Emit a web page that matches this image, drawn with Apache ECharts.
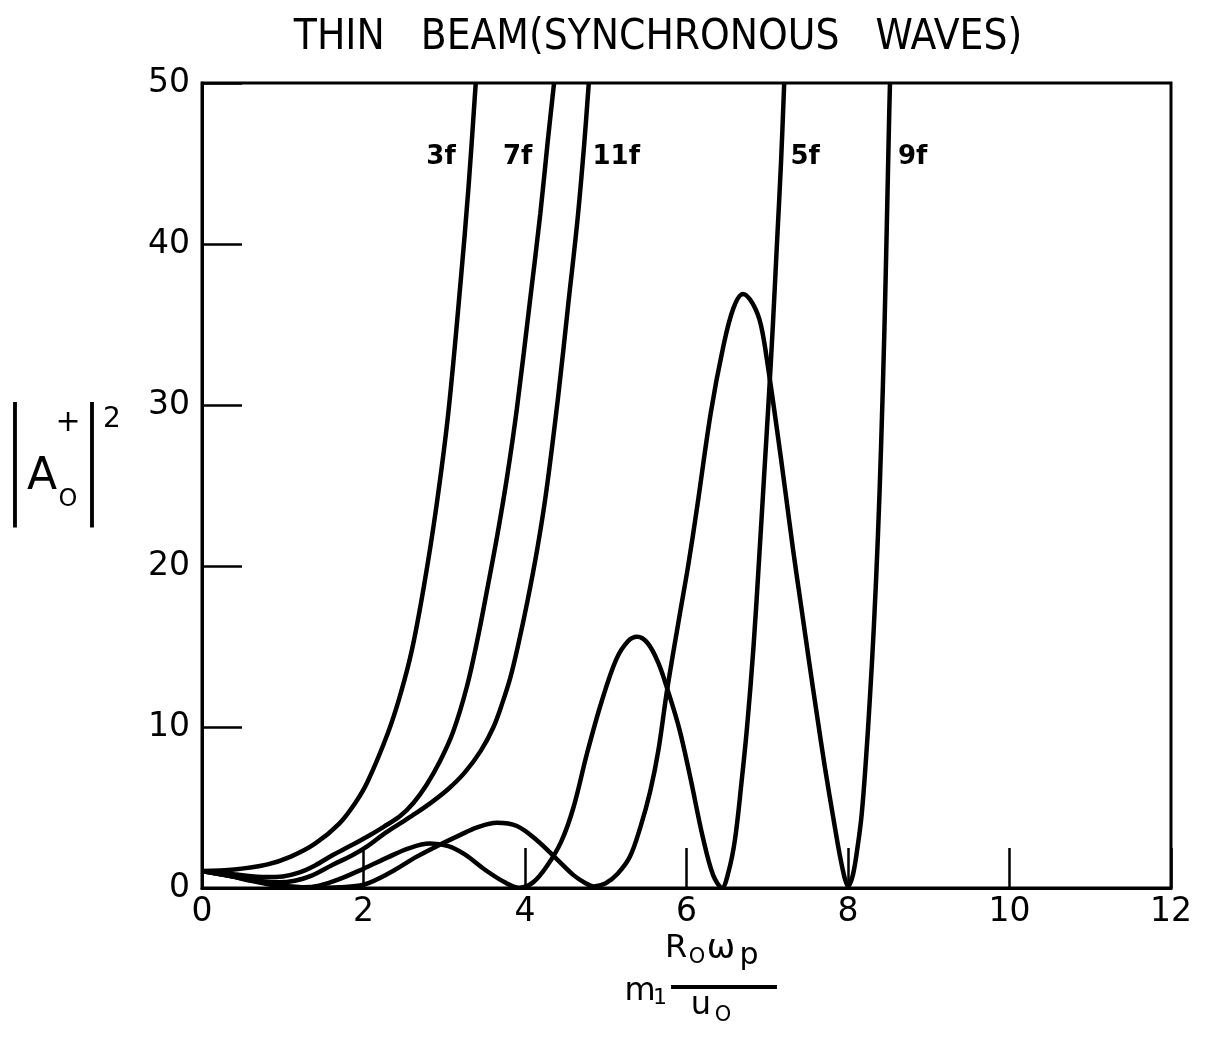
<!DOCTYPE html>
<html><head><meta charset="utf-8">
<script src="https://cdn.jsdelivr.net/npm/echarts@6/dist/echarts.min.js"></script>
<style>html,body{margin:0;padding:0;background:#fff}#c{width:1205px;height:1038px}</style>
</head><body><div id="c"></div>
<script>
// ---- data ----
const xMin = 0, xMax = 12, xStep = 2;
const yMin = 0, yMax = 50, yStep = 10;

const x3f = [0, 0.4, 0.8, 1.1, 1.4, 1.7, 1.9, 2.05, 2.3, 2.45, 2.6, 2.75, 2.9, 3.05, 3.2, 3.3, 3.39];
const y3f = [1.05, 1.15, 1.45, 1.95, 2.75, 4.0, 5.3, 6.6, 9.6, 11.9, 14.8, 18.8, 23.6, 29.5, 37.5, 43.5, 50];

const x7f = [0, 0.4, 0.8, 1.0, 1.2, 1.4, 1.62, 1.85, 2.05, 2.25, 2.45, 2.62, 2.78, 2.95, 3.11, 3.28, 3.41, 3.53, 3.66, 3.78, 3.9, 4.06, 4.19, 4.28, 4.36];
const y7f = [1.05, 0.85, 0.68, 0.72, 0.95, 1.4, 2.05, 2.65, 3.2, 3.8, 4.45, 5.3, 6.4, 7.9, 9.7, 12.5, 15.4, 18.5, 22.0, 25.6, 29.8, 36.4, 41.9, 46.3, 50];

const x11f = [0, 0.4, 0.75, 0.95, 1.15, 1.35, 1.62, 1.85, 2.05, 2.25, 2.45, 2.65, 2.85, 3.05, 3.25, 3.45, 3.61, 3.72, 3.82, 3.92, 4.03, 4.15, 4.26, 4.41, 4.53, 4.65, 4.73, 4.79];
const y11f = [1.05, 0.7, 0.42, 0.35, 0.45, 0.75, 1.45, 2.0, 2.6, 3.35, 4.0, 4.65, 5.35, 6.15, 7.15, 8.5, 10.0, 11.5, 13.1, 15.2, 17.8, 21.0, 24.5, 30.5, 36.0, 41.5, 46.0, 50];

const x5f = [0, 0.3, 0.6, 0.85, 1.05, 1.25, 1.45, 1.7, 2.0, 2.3, 2.55, 2.82, 3.05, 3.25, 3.5, 3.75, 3.93, 4.1, 4.27, 4.45, 4.6, 4.77, 4.95, 5.13, 5.27, 5.39, 5.52, 5.65, 5.76, 5.91, 6.05, 6.2, 6.33, 6.44, 6.52, 6.6, 6.68, 6.75, 6.83, 6.9, 6.96, 7.02, 7.07, 7.12, 7.17, 7.21];
const y5f = [1.05, 0.8, 0.45, 0.2, 0.08, 0.05, 0.15, 0.55, 1.2, 1.9, 2.45, 2.76, 2.6, 2.1, 1.15, 0.35, 0.02, 0.35, 1.35, 2.9, 5.0, 8.4, 11.6, 14.2, 15.3, 15.6, 15.2, 14.0, 12.4, 9.9, 6.8, 3.2, 0.8, 0.02, 1.0, 3.0, 6.5, 10.0, 15.0, 20.5, 25.5, 30.5, 35.0, 40.0, 45.0, 50];

const x9f = [0, 0.4, 0.8, 1.1, 1.4, 1.7, 2.0, 2.33, 2.66, 2.95, 3.2, 3.4, 3.65, 3.9, 4.15, 4.4, 4.6, 4.75, 4.85, 5.0, 5.15, 5.3, 5.43, 5.55, 5.65, 5.76, 5.91, 6.02, 6.13, 6.3, 6.45, 6.58, 6.7, 6.82, 6.92, 7.02, 7.12, 7.22, 7.32, 7.42, 7.52, 7.62, 7.72, 7.82, 7.9, 7.96, 8.0, 8.06, 8.12, 8.17, 8.22, 8.27, 8.32, 8.37, 8.41, 8.45, 8.48, 8.51, 8.52];
const y9f = [1.05, 0.7, 0.3, 0.1, 0.02, 0.05, 0.2, 0.96, 1.95, 2.7, 3.3, 3.75, 4.05, 3.85, 2.95, 1.76, 0.8, 0.3, 0.1, 0.3, 0.9, 1.95, 3.8, 6.0, 8.5, 12.3, 16.8, 20.0, 23.6, 29.5, 33.5, 36.0, 36.9, 36.3, 35.0, 32.0, 28.5, 24.8, 21.0, 17.5, 14.0, 10.6, 7.3, 4.3, 2.0, 0.6, 0.1, 0.8, 2.6, 4.6, 7.8, 11.7, 16.2, 21.8, 27.5, 34.5, 41.0, 48.0, 50];

const curveNames = ['3f', '7f', '11f', '5f', '9f'];
const curveX = [x3f, x7f, x11f, x5f, x9f];
const curveY = [y3f, y7f, y11f, y5f, y9f];
const labelX = [2.96, 3.91, 5.13, 7.47, 8.8];
const labelY = [45.4, 45.4, 45.4, 45.4, 45.4];

const titleText = 'THIN   BEAM(SYNCHRONOUS   WAVES)';

// ---- chart ----
const chart = echarts.init(document.getElementById('c'), null, {renderer: 'canvas'});
const numFont = "'DejaVu Sans', sans-serif";
const series = curveNames.map((n, i) => ({
  name: n, type: 'line', showSymbol: false, symbol: 'none',
  smooth: 0.35, clip: true,
  lineStyle: {color: '#000', width: 4.5},
  data: curveX[i].map((x, j) => [x, curveY[i][j]])
}));
series.push({
  type: 'scatter', symbolSize: 0, silent: true,
  itemStyle: {opacity: 1, color: '#000'},
  data: curveNames.map((n, i) => ({name: n, value: [labelX[i], labelY[i]]})),
  label: {show: true, position: 'inside', formatter: p => p.name, opacity: 1,
    color: '#000', textBorderWidth: 0, fontFamily: numFont, fontWeight: 'bold', fontSize: 26}
});

const G = [];
const t = (text, x, y, size, extra) => { const el = {
  type: 'text', x: x, y: y,
  style: Object.assign({text: text, fill: '#000', font: `${size}px ${numFont}`, textAlign: 'center', textVerticalAlign: 'middle'}, extra || {})
}; G.push(el); return el; };
// y axis title |A0+|2
const barFont = `48px 'Liberation Sans', sans-serif`;
t('|', 15, 462, 48, {font: barFont}).scaleY = 2.8;
t('A', 42, 478, 44);
t('+', 68, 423, 30);
t('O', 68, 500, 24);
t('|', 92, 462, 48, {font: barFont}).scaleY = 2.8;
t('2', 112, 420, 28);
// x axis title  m1 R0wp / u0
t('R', 676, 949, 32);
t('O', 697, 958, 21);
t('ω', 721, 949, 34);
t('p', 749, 956, 30);
G.push({type: 'rect', shape: {x: 671, y: 985, width: 106, height: 4}, style: {fill: '#000'}});
t('m', 640, 992, 32);
t('1', 660, 998, 22);
t('u', 701, 1006, 32);
t('O', 723, 1016, 21);

chart.setOption({
  backgroundColor: '#fff',
  animation: false,
  title: {text: titleText, left: 653, top: 12, textAlign: 'center',
    textStyle: {fontFamily: "'Liberation Sans Narrow', 'DejaVu Sans Condensed', sans-serif", fontSize: 42, fontWeight: 'normal', color: '#000'}},
  grid: {left: 202, right: 34, top: 83, bottom: 150, show: true, borderColor: '#000', borderWidth: 3, backgroundColor: 'transparent'},
  xAxis: {type: 'value', min: xMin, max: xMax, interval: xStep,
    axisLine: {show: true, lineStyle: {color: '#000', width: 3}},
    axisTick: {show: true, inside: true, length: 40, lineStyle: {color: '#000', width: 2.5}},
    axisLabel: {color: '#000', fontFamily: numFont, fontSize: 33, margin: 8},
    splitLine: {show: false}},
  yAxis: {type: 'value', min: yMin, max: yMax, interval: yStep,
    axisLine: {show: true, lineStyle: {color: '#000', width: 3}},
    axisTick: {show: true, inside: true, length: 40, lineStyle: {color: '#000', width: 2.5}},
    axisLabel: {color: '#000', fontFamily: numFont, fontSize: 33, margin: 12},
    splitLine: {show: false}},
  series: series,
  graphic: G
});
</script></body></html>
